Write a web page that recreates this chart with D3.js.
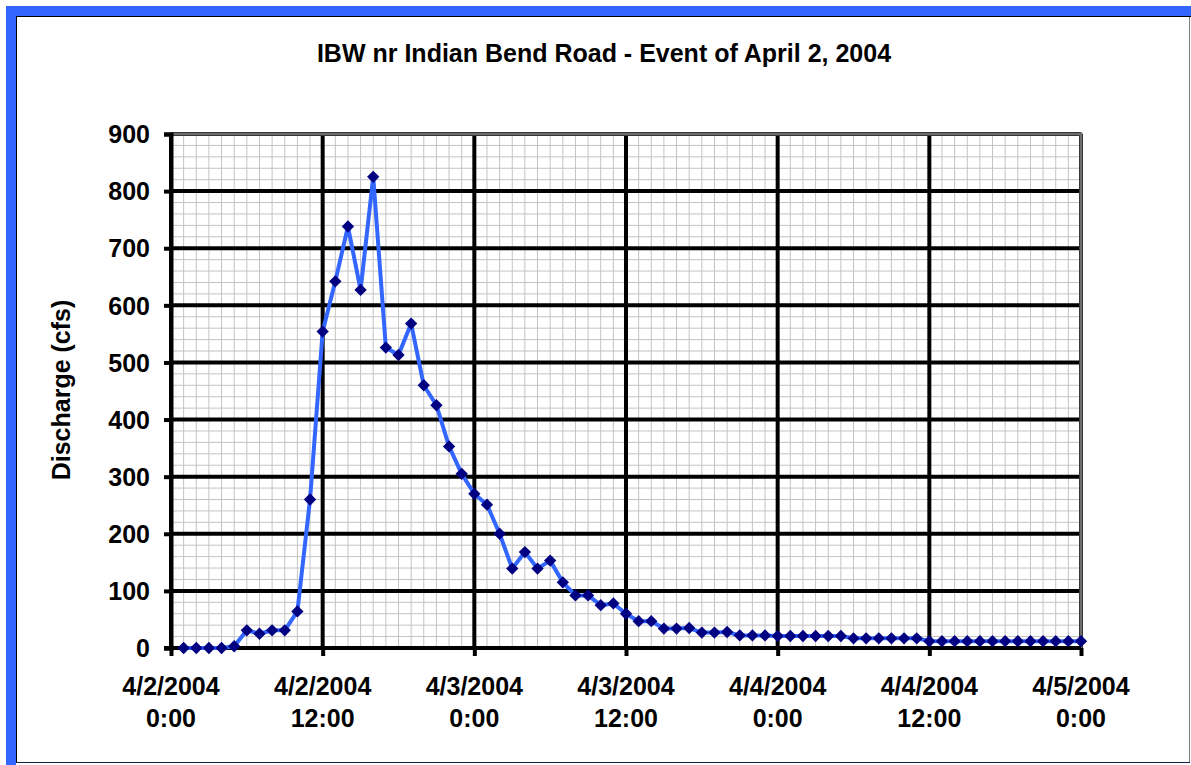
<!DOCTYPE html>
<html>
<head>
<meta charset="utf-8">
<script src="https://cdn.jsdelivr.net/npm/d3@7"></script>
<style>
  body { margin: 0; background: #fff; }
  svg text { font-family: Arial, "Liberation Sans", sans-serif; font-weight: bold; fill: #000; }
</style>
</head>
<body>
<svg id="chart" width="1191" height="765"></svg>
<script>
// Chart title and axis label
const chartTitle = "IBW nr Indian Bend Road - Event of April 2, 2004";
const yLabel = "Discharge (cfs)";

// Hourly readings, first one at 4/2/2004 1:00
const startTime = new Date(2004, 3, 2, 0, 0);
const discharge = [
  0, 0, 0, 0, 3, 31, 25, 31, 31, 64, 260, 554,
  642, 738, 627, 825, 526, 513, 568, 460, 425, 353, 305, 270,
  251, 200, 139, 168, 139, 153, 115, 92, 92, 75, 78, 60,
  47, 47, 34, 34, 35, 27, 27, 28, 22, 22, 22, 21,
  21, 21, 21, 21, 21, 17, 17, 17, 17, 17, 17, 12,
  12, 12, 12, 12, 12, 12, 12, 12, 12, 12, 12, 12
];

// Axis ticks
const yTicks = [0, 100, 200, 300, 400, 500, 600, 700, 800, 900];
const xTickLabels = [
  ["4/2/2004", "0:00"], ["4/2/2004", "12:00"], ["4/3/2004", "0:00"],
  ["4/3/2004", "12:00"], ["4/4/2004", "0:00"], ["4/4/2004", "12:00"],
  ["4/5/2004", "0:00"]
];

const data = discharge.map((v, i) => ({ date: d3.timeHour.offset(startTime, i + 1), v }));

const plot = { left: 171, right: 1081, top: 134, bottom: 648 };
const fontSize = "25px";

const x = d3.scaleTime()
  .domain([startTime, new Date(2004, 3, 5, 0, 0)])
  .range([plot.left, plot.right]);

const y = d3.scaleLinear()
  .domain([0, 900])
  .range([plot.bottom, plot.top]);

const svg = d3.select("#chart");

// outer frame
svg.append("rect").attr("x", 6).attr("y", 6).attr("width", 1185).attr("height", 10).attr("fill", "#3366ff");
svg.append("rect").attr("x", 6).attr("y", 6).attr("width", 10).attr("height", 759).attr("fill", "#3366ff");
svg.append("line").attr("x1", 16).attr("x2", 1191).attr("y1", 16.5).attr("y2", 16.5).attr("stroke", "#000");
svg.append("line").attr("x1", 16.5).attr("x2", 16.5).attr("y1", 16).attr("y2", 763).attr("stroke", "#000");
svg.append("line").attr("x1", 1189.5).attr("x2", 1189.5).attr("y1", 17).attr("y2", 763).attr("stroke", "#808080");
svg.append("line").attr("x1", 16).attr("x2", 1190).attr("y1", 762.5).attr("y2", 762.5).attr("stroke", "#1a1a40");

// title
svg.append("text")
  .attr("x", 604).attr("y", 62)
  .attr("text-anchor", "middle")
  .style("font-size", fontSize)
  .text(chartTitle);

// minor grid
const grid = svg.append("g");
grid.selectAll(".vminor")
  .data(x.ticks(d3.timeHour.every(1)))
  .enter().append("line")
  .attr("x1", d => x(d)).attr("x2", d => x(d))
  .attr("y1", plot.top).attr("y2", plot.bottom)
  .attr("stroke", "#c4c4c4").attr("stroke-width", 1);

grid.selectAll(".hminor")
  .data(d3.range(0, 901, 20))
  .enter().append("line")
  .attr("x1", plot.left).attr("x2", plot.right)
  .attr("y1", d => y(d)).attr("y2", d => y(d))
  .attr("stroke", "#c4c4c4").attr("stroke-width", 1);

// major grid
const xMajor = x.ticks(d3.timeHour.every(12));
grid.selectAll(".vmajor")
  .data(xMajor)
  .enter().append("line")
  .attr("x1", d => x(d)).attr("x2", d => x(d))
  .attr("y1", plot.top).attr("y2", plot.bottom)
  .attr("stroke", "#000").attr("stroke-width", 4);

grid.selectAll(".hmajor")
  .data(yTicks)
  .enter().append("line")
  .attr("x1", plot.left).attr("x2", plot.right)
  .attr("y1", d => y(d)).attr("y2", d => y(d))
  .attr("stroke", "#000").attr("stroke-width", 4);

// plot area border on top and right
svg.append("path")
  .attr("d", `M${plot.left},${plot.top}H${plot.right}V${plot.bottom}`)
  .attr("fill", "none").attr("stroke", "#6e6e6e").attr("stroke-width", 3);

// y axis
const yAxis = svg.append("g").attr("transform", `translate(${plot.left},0)`)
  .call(d3.axisLeft(y).tickValues(yTicks).tickSize(7).tickPadding(14).tickFormat(d3.format("d")));
yAxis.select(".domain").attr("stroke", "#000").attr("stroke-width", 4);
yAxis.selectAll(".tick line").attr("stroke", "#000").attr("stroke-width", 4);
yAxis.selectAll(".tick text")
  .style("font-size", fontSize).style("font-family", "Arial, 'Liberation Sans', sans-serif")
  .style("font-weight", "bold").attr("fill", "#000").attr("dy", "0.35em");

// x axis
const xAxis = svg.append("g").attr("transform", `translate(0,${plot.bottom})`)
  .call(d3.axisBottom(x).tickValues(xMajor).tickSize(8).tickFormat(""));
xAxis.select(".domain").remove();
xAxis.selectAll(".tick line").attr("stroke", "#000").attr("stroke-width", 4);
svg.append("line")
  .attr("x1", plot.left - 7).attr("x2", plot.right)
  .attr("y1", plot.bottom).attr("y2", plot.bottom)
  .attr("stroke", "#000").attr("stroke-width", 4);

const xLabels = svg.append("g").selectAll("text")
  .data(xMajor)
  .enter().append("text")
  .attr("x", d => x(d))
  .attr("text-anchor", "middle")
  .style("font-size", fontSize);
xLabels.append("tspan").attr("y", 695).attr("x", d => x(d)).text((d, i) => xTickLabels[i][0]);
xLabels.append("tspan").attr("y", 727).attr("x", d => x(d)).text((d, i) => xTickLabels[i][1]);

// y label
svg.append("text")
  .attr("transform", "translate(70,390) rotate(-90)")
  .attr("text-anchor", "middle")
  .style("font-size", fontSize)
  .text(yLabel);

// series
const line = d3.line().x(d => x(d.date)).y(d => y(d.v));
svg.append("path")
  .datum(data)
  .attr("d", line)
  .attr("fill", "none")
  .attr("stroke", "#3366ff")
  .attr("stroke-width", 4)
  .attr("stroke-linejoin", "round");

svg.append("g").selectAll("path")
  .data(data)
  .enter().append("path")
  .attr("d", d3.symbol(d3.symbolSquare, 76))
  .attr("transform", d => `translate(${x(d.date)},${y(d.v)}) rotate(45)`)
  .attr("fill", "#000080");
</script>
</body>
</html>
